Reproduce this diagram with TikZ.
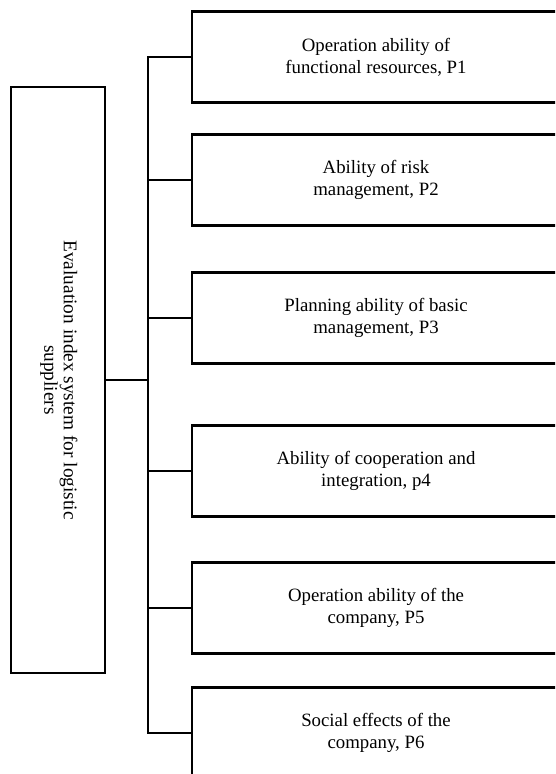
\documentclass[tikz,border=0pt]{standalone}
\usepackage{fontspec}
\setmainfont{Liberation Serif}
\usetikzlibrary{positioning}

\tikzset{
  box/.style={draw,line width=1.2pt,align=center,inner sep=0pt,
    font=\fontsize{10.7}{12.6}\selectfont,minimum width=7.36cm,minimum height=1.82cm},
  rootbox/.style={draw,line width=1.2pt,align=center,inner sep=0pt,
    font=\fontsize{11}{11}\selectfont,minimum width=1.88cm,minimum height=11.72cm},
  link/.style={line width=1.2pt}
}

\begin{document}
\begin{tikzpicture}[line cap=rect,line join=miter,x=0.02cm,y=-0.02cm]
\useasboundingbox (0,0) rectangle (555,774);
\clip (0,0) rectangle (555,774);

\node[rootbox] (root) at (58,380) {\rotatebox{-90}{\begin{tabular}{@{}c@{}}Evaluation index system for logistic\\suppliers\end{tabular}}};

\node[box] (p1) at (376,57) {Operation ability of\\functional resources, P1};
\node[box] (p2) at (376,180) {Ability of risk\\management, P2};
\node[box] (p3) at (376,318) {Planning ability of basic\\management, P3};
\node[box] (p4) at (376,471) {Ability of cooperation and\\integration, p4};
\node[box] (p5) at (376,608) {Operation ability of the\\company, P5};
\node[box] (p6) at (376,733) {Social effects of the\\company, P6};

\coordinate (bt) at (148,57);
\coordinate (bb) at (148,733);

\draw[link] (bt) -- (bb);
\draw[link] (root.east) -- (root.east -| bt);
\foreach \p in {p1,p2,p3,p4,p5,p6}
  \draw[link] (\p.west) -- (\p.west -| bt);

\end{tikzpicture}
\end{document}
